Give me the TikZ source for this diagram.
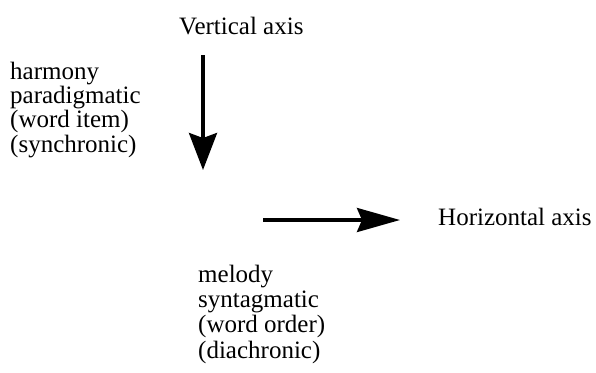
\documentclass[tikz,border=0pt]{standalone}
\usepackage{fontspec}
\setmainfont{Liberation Serif}
\usetikzlibrary{arrows.meta}
\tikzset{
  lbl/.style={inner sep=0pt, anchor=base west, align=left, font=\fontsize{25}{24.5}\selectfont},
  axisarrow/.style={line width=3.5pt, -{Stealth[length=37pt, width=28pt, inset=5pt]}}
}
\begin{document}
\begin{tikzpicture}[x=1pt, y=-1pt]
\useasboundingbox (0,0) rectangle (596,372);
\node[lbl] (vlabel) at (179,34) {Vertical axis};
\node[lbl, font=\fontsize{25}{24.3}\selectfont] (left) at (10,152) {harmony\\paradigmatic\\(word item)\\(synchronic)};
\node[lbl] (hlabel) at (438,225) {Horizontal axis};
\node[lbl, font=\fontsize{25}{25.3}\selectfont] (bottom) at (198,358) {melody\\syntagmatic\\(word order)\\(diachronic)};
\coordinate (vstart) at (203,55);
\coordinate (vend) at (203,170);
\coordinate (hstart) at (263,220);
\coordinate (hend) at (400,220);
\draw[axisarrow] (vstart) -- (vend);
\draw[axisarrow, -{Stealth[length=43pt, width=24pt, inset=5pt]}] (hstart) -- (hend);
\end{tikzpicture}
\end{document}
